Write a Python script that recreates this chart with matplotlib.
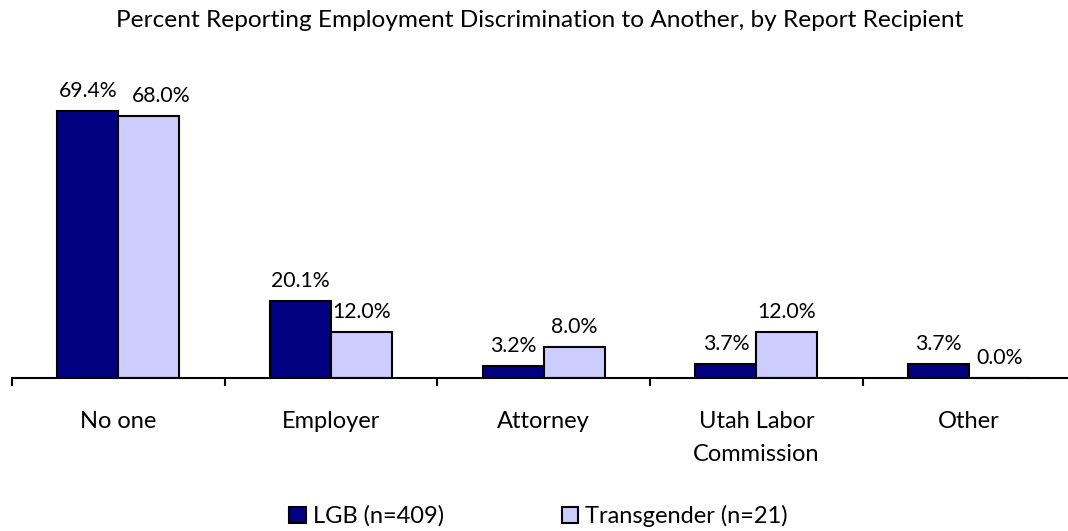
import matplotlib
matplotlib.use("Agg")
import matplotlib.pyplot as plt
import numpy as np
from matplotlib.patches import Patch

categories = ["No one", "Employer", "Attorney", "Utah Labor\nCommission", "Other"]
lgb = [69.4, 20.1, 3.2, 3.7, 3.7]
trans = [68.0, 12.0, 8.0, 12.0, 0.0]
series_names = ["LGB (n=409)", "Transgender (n=21)"]
title = "Percent Reporting Employment Discrimination to Another, by Report Recipient"

plt.rcParams['font.family'] = ['Lato', 'DejaVu Sans']
c1, c2 = "#000080", "#CCCCFF"

fig = plt.figure(figsize=(10.68, 5.31), dpi=100)
ax = fig.add_axes([12/1068, 153/531, 1063.5/1068, 308/531])
x = np.arange(len(categories))
w = 0.287
b1 = ax.bar(x - w/2, lgb, w, color=c1, edgecolor="black", linewidth=1.5)
b2 = ax.bar(x + w/2, trans, w, color=c2, edgecolor="black", linewidth=1.5)
for si, (bars, vals) in enumerate(((b1, lgb), (b2, trans))):
    for i, (r, v) in enumerate(zip(bars, vals)):
        dx = 9 if (si == 1 and i == 0) else 0  # label nudged to avoid overlap
        ax.annotate(f"{v:.1f}%", (r.get_x() + r.get_width()/2, v), xytext=(dx, 10),
                    textcoords="offset points", ha="center", va="baseline", fontsize=15.3)
ax.set_xlim(-0.5, len(categories) - 0.5)
ax.set_ylim(0, 80)
for s in ("left", "right", "top"):
    ax.spines[s].set_visible(False)
ax.spines["bottom"].set_linewidth(1.5)
ax.set_yticks([])
ax.set_xticks(np.arange(len(categories) + 1) - 0.5)
ax.set_xticklabels([])
ax.tick_params(axis="x", which="major", length=6, width=1.5, direction="out")
ax.set_xticks(x, minor=True)
ax.set_xticklabels(categories, minor=True, fontsize=17, linespacing=1.7)
ax.tick_params(axis="x", which="minor", length=0, pad=24)
for t in ax.get_xticklabels(minor=True):
    t.set_verticalalignment("top")

fig.text(0.505, 1 - 27/531, title, ha="center", va="baseline", fontsize=17.6)
handles = [Patch(facecolor=c1, edgecolor="black", linewidth=1.5),
           Patch(facecolor=c2, edgecolor="black", linewidth=1.5)]
fig.legend(handles, series_names, loc="center", bbox_to_anchor=(538.5/1068, 1 - 516/531),
           ncol=2, frameon=False, fontsize=17, handlelength=0.68, handleheight=0.68,
           handletextpad=0.3, columnspacing=5.0, borderpad=0, borderaxespad=0)
fig.savefig("out.png", dpi=100)
